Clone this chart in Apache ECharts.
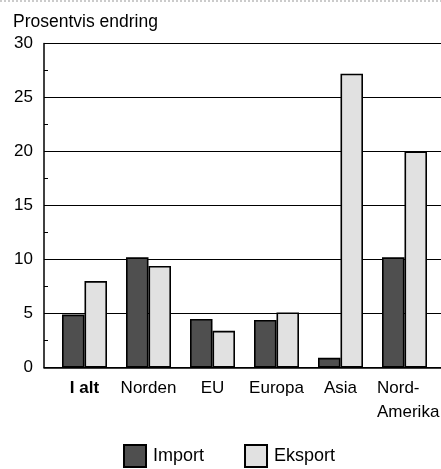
<!DOCTYPE html>
<html><head><meta charset="utf-8">
<script src="https://cdn.jsdelivr.net/npm/echarts@6/dist/echarts.min.js"></script>
<style>html,body{margin:0;padding:0;background:#fff}#c{width:441px;height:469px}</style>
</head><body><div id="c"></div>
<script>
const categories = ['I alt', 'Norden', 'EU', 'Europa', 'Asia', 'Nord-\nAmerika'];
const importValues = [4.9, 10.2, 4.5, 4.4, 0.9, 10.2];
const eksportValues = [8.0, 9.4, 3.4, 5.1, 27.2, 20.0];
const yTicks = [0, 5, 10, 15, 20, 25, 30];
const seriesNames = ['Import', 'Eksport'];
const titleText = 'Prosentvis endring';

const FONT = 'Liberation Sans, Arial, Helvetica, sans-serif';
const chart = echarts.init(document.getElementById('c'), null, {renderer: 'canvas'});
const gTop = 43.5, gBottom = 101.5;
chart.setOption({
  animation: false,
  backgroundColor: '#fff',
  textStyle: {fontFamily: FONT, color: '#000'},
  title: {text: titleText, left: 13, top: 13, padding: 0,
    textStyle: {fontFamily: FONT, fontSize: 17.5, fontWeight: 'normal', color: '#000'}},
  graphic: [{type: 'line', shape: {x1: 0, y1: 1, x2: 441, y2: 1},
    style: {stroke: '#bbb', lineWidth: 1.5, lineDash: [2, 2]}, silent: true}],
  legend: {left: 123, top: 444, padding: 0, itemWidth: 22, itemHeight: 22, itemGap: 40,
    icon: 'rect',
    textStyle: {fontFamily: FONT, fontSize: 18, color: '#000', padding: [5, 0, 0, 2]},
    data: seriesNames},
  grid: [
    {left: 44, right: 0, top: gTop, bottom: gBottom, outerBoundsMode: 'none', containLabel: false},
    {left: 52.5, width: 384, top: gTop, bottom: gBottom, outerBoundsMode: 'none', containLabel: false}
  ],
  xAxis: [
    {gridIndex: 0, type: 'value', min: 0, max: 1, show: true,
      axisLine: {show: true, lineStyle: {color: '#000', width: 1.5}},
      axisTick: {show: false}, axisLabel: {show: false}, splitLine: {show: false}},
    {gridIndex: 1, type: 'category', data: categories,
      axisLine: {show: false}, axisTick: {show: false},
      axisLabel: {interval: 0, margin: 9, fontSize: 17, lineHeight: 24, color: '#000', fontFamily: FONT,
        formatter: function (v, i) {
          if (i === 0) return '{b|' + v + '}';
          if (v.indexOf('\n') >= 0) return v.split('\n').map(s => '{l|' + s + '}').join('\n');
          return v;
        },
        rich: {
          b: {fontWeight: 'bold', fontSize: 17, fontFamily: FONT, color: '#000'},
          l: {width: 64, align: 'left', fontSize: 17, lineHeight: 24, fontFamily: FONT, color: '#000', padding: [0, 0, 0, 9]}
        }}}
  ],
  yAxis: [
    {gridIndex: 0, type: 'value', min: yTicks[0], max: yTicks[yTicks.length - 1], interval: 5,
      axisLine: {show: true, lineStyle: {color: '#000', width: 1.5}},
      axisTick: {show: true, inside: true, length: 4, lineStyle: {color: '#000'}},
      minorTick: {show: true, splitNumber: 2, length: 4, lineStyle: {color: '#000', width: 1}},
      axisLabel: {fontSize: 17, color: '#000', margin: 11, fontFamily: FONT, padding: [4, 0, 0, 0]},
      splitLine: {show: true, lineStyle: {color: '#000', width: 1.2}}},
    {gridIndex: 1, type: 'value', min: yTicks[0], max: yTicks[yTicks.length - 1], show: false}
  ],
  series: [
    {name: seriesNames[0], type: 'bar', xAxisIndex: 1, yAxisIndex: 1, data: importValues,
      barWidth: 22.5, barGap: '0%',
      itemStyle: {color: '#4f4f4f', borderColor: '#000', borderWidth: 1.6}},
    {name: seriesNames[1], type: 'bar', xAxisIndex: 1, yAxisIndex: 1, data: eksportValues,
      barWidth: 22.5, barGap: '0%',
      itemStyle: {color: '#e1e1e1', borderColor: '#000', borderWidth: 1.6}}
  ]
});
</script></body></html>
